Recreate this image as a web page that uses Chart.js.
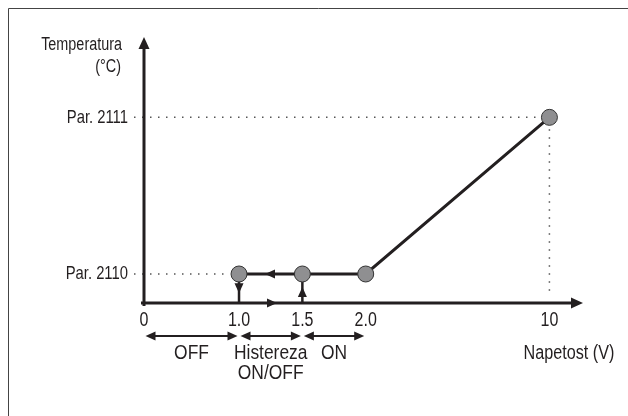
<!DOCTYPE html>
<html lang="sl">
<head>
<meta charset="UTF-8">
<title>Temperatura / Napetost</title>
<script src="https://cdn.jsdelivr.net/npm/chart.js"></script>
<style>
  html, body { margin: 0; padding: 0; background: #fff; }
</style>
</head>
<body>
<canvas id="chart" width="628" height="416"></canvas>
<script>
// The drawing is a schematic: the voltage axis is not to scale,
// so the x values below are positions along the drawn axis.
const xTickPos = [0, 3, 5, 7, 12.8];
const xTickLabels = ['0', '1.0', '1.5', '2.0', '10'];
const yTickPos = [1, 6.4];
const yTickLabels = ['Par. 2110', 'Par. 2111'];

// characteristic: 1.0 V, 1.5 V, 2.0 V, 10 V
const curveX = [3, 5, 7, 12.8];
const curveY = [1, 1, 1, 6.4];

// hysteresis legs down to / up from the axis
const offLegX = [3, 3];
const offLegY = [1, 0];
const onLegX = [5, 5];
const onLegY = [0, 1];

// small direction arrows on the hysteresis loop
const flowX = [3, 5, 3.82, 4.2];
const flowY = [0.34, 0.55, 1, 0];
const flowDir = ['down', 'up', 'left', 'right'];

// zones under the axis
const zoneFrom = [0, 3, 5];
const zoneTo = [3, 5, 7];
const zoneLabels = [['OFF'], ['Histereza', 'ON/OFF'], ['ON']];

const xMax = 13.86;
const yMax = 9.17;

const ink = '#231f20';
const dotColor = '#555';
const fontFamily = '"Liberation Sans", Arial, sans-serif';

function toPoints(xs, ys) {
  return xs.map((x, i) => ({ x: x, y: ys[i] }));
}

function arrowHead(ctx, x, y, angle, len, half) {
  ctx.save();
  ctx.translate(x, y);
  ctx.rotate(angle);
  ctx.beginPath();
  ctx.moveTo(0, 0);
  ctx.lineTo(-len, -half);
  ctx.lineTo(-len, half);
  ctx.closePath();
  ctx.fill();
  ctx.restore();
}

// the original lettering is a condensed face, so squeeze it horizontally
function label(ctx, text, x, y, align, size, squeeze) {
  ctx.save();
  ctx.translate(x, y);
  ctx.scale(squeeze, 1);
  ctx.font = size + 'px ' + fontFamily;
  ctx.fillStyle = ink;
  ctx.textAlign = align;
  ctx.textBaseline = 'middle';
  ctx.fillText(text, 0, 0);
  ctx.restore();
}

const angles = { right: 0, down: Math.PI / 2, left: Math.PI, up: -Math.PI / 2 };

const schematic = {
  id: 'schematic',
  beforeDatasetsDraw(chart) {
    const ctx = chart.ctx;
    const xs = chart.scales.x, ys = chart.scales.y;
    const x0 = xs.getPixelForValue(0), y0 = ys.getPixelForValue(0);
    ctx.save();

    // frame (only left and top edges are in the picture)
    ctx.strokeStyle = '#444';
    ctx.lineWidth = 1;
    ctx.beginPath();
    ctx.moveTo(8.5, 416);
    ctx.lineTo(8.5, 8.5);
    ctx.lineTo(628, 8.5);
    ctx.stroke();

    // dotted guides
    ctx.strokeStyle = dotColor;
    ctx.lineWidth = 1.5;
    ctx.setLineDash([1.5, 6.5]);
    const pLow = ys.getPixelForValue(yTickPos[0]);
    const pHigh = ys.getPixelForValue(yTickPos[1]);
    const xFirst = xs.getPixelForValue(curveX[0]);
    const xLast = xs.getPixelForValue(curveX[curveX.length - 1]);
    ctx.beginPath();
    ctx.moveTo(x0 - 10, pLow); ctx.lineTo(xFirst - 10, pLow);
    ctx.moveTo(x0 - 10, pHigh); ctx.lineTo(xLast - 10, pHigh);
    ctx.moveTo(xLast, pHigh + 12); ctx.lineTo(xLast, y0 - 6);
    ctx.stroke();
    ctx.setLineDash([]);

    // axes with arrows
    ctx.strokeStyle = ink;
    ctx.fillStyle = ink;
    ctx.lineWidth = 3;
    ctx.beginPath();
    ctx.moveTo(x0, y0 + 3);
    ctx.lineTo(x0, chart.chartArea.top + 8);
    ctx.moveTo(x0 - 3, y0);
    ctx.lineTo(chart.chartArea.right - 8, y0);
    ctx.stroke();
    arrowHead(ctx, x0, chart.chartArea.top, angles.up, 12, 5.5);
    arrowHead(ctx, chart.chartArea.right, y0, angles.right, 12, 5.5);
    ctx.restore();

    // tick labels, placed by the scales
    xs.ticks.forEach(t => label(ctx, t.label, xs.getPixelForValue(t.value), y0 + 17, 'center', 20, 0.8));
    ys.ticks.forEach(t => label(ctx, t.label, x0 - 16, ys.getPixelForValue(t.value), 'right', 19, 0.78));
  },
  afterDatasetsDraw(chart) {
    const ctx = chart.ctx;
    const xs = chart.scales.x, ys = chart.scales.y;
    ctx.save();
    ctx.fillStyle = ink;
    ctx.strokeStyle = ink;

    // direction arrows on the loop
    flowX.forEach((v, i) => {
      arrowHead(ctx, xs.getPixelForValue(v), ys.getPixelForValue(flowY[i]), angles[flowDir[i]], 10, 4.5);
    });

    // zone arrows and labels
    const yz = 336;
    ctx.lineWidth = 2;
    zoneFrom.forEach((f, i) => {
      const a = xs.getPixelForValue(f) + 1.5;
      const b = xs.getPixelForValue(zoneTo[i]) - 1.5;
      ctx.beginPath();
      ctx.moveTo(a + 6, yz);
      ctx.lineTo(b - 6, yz);
      ctx.stroke();
      arrowHead(ctx, a, yz, angles.left, 10, 4.5);
      arrowHead(ctx, b, yz, angles.right, 10, 4.5);
      zoneLabels[i].forEach((t, j) => label(ctx, t, (a + b) / 2, 353 + j * 20, 'center', 20, 0.87));
    });
    ctx.restore();

    // axis titles
    label(ctx, 'Temperatura', 122, 45, 'right', 18, 0.8);
    label(ctx, '(°C)', 121, 67, 'right', 18, 0.8);
    label(ctx, 'Napetost (V)', 569, 353, 'center', 20, 0.81);
  }
};

new Chart(document.getElementById('chart'), {
  type: 'line',
  data: {
    datasets: [
      {
        data: toPoints(curveX, curveY),
        borderColor: ink,
        borderWidth: 3,
        pointRadius: 8,
        pointBackgroundColor: '#8f8f91',
        pointBorderColor: '#333',
        pointBorderWidth: 1,
        tension: 0,
        clip: false
      },
      {
        data: toPoints(offLegX, offLegY),
        borderColor: ink,
        borderWidth: 2.5,
        pointRadius: 0,
        clip: false
      },
      {
        data: toPoints(onLegX, onLegY),
        borderColor: ink,
        borderWidth: 2.5,
        pointRadius: 0,
        clip: false
      }
    ]
  },
  options: {
    responsive: false,
    animation: false,
    events: [],
    layout: { padding: { left: 0, top: 37, right: 45, bottom: 0 } },
    plugins: { legend: { display: false }, tooltip: { enabled: false } },
    scales: {
      x: {
        type: 'linear',
        min: 0,
        max: xMax,
        grid: { display: false, drawTicks: false },
        border: { display: false },
        afterBuildTicks(scale) { scale.ticks = xTickPos.map(v => ({ value: v })); },
        afterFit(scale) { scale.height = 416 - 303; },
        ticks: {
          display: false,
          autoSkip: false,
          callback: (v, i) => xTickLabels[i]
        }
      },
      y: {
        type: 'linear',
        min: 0,
        max: yMax,
        grid: { display: false, drawTicks: false },
        border: { display: false },
        afterBuildTicks(scale) { scale.ticks = yTickPos.map(v => ({ value: v })); },
        afterFit(scale) { scale.width = 144; },
        ticks: {
          display: false,
          autoSkip: false,
          callback: (v, i) => yTickLabels[i]
        }
      }
    }
  },
  plugins: [schematic]
});
</script>
</body>
</html>
